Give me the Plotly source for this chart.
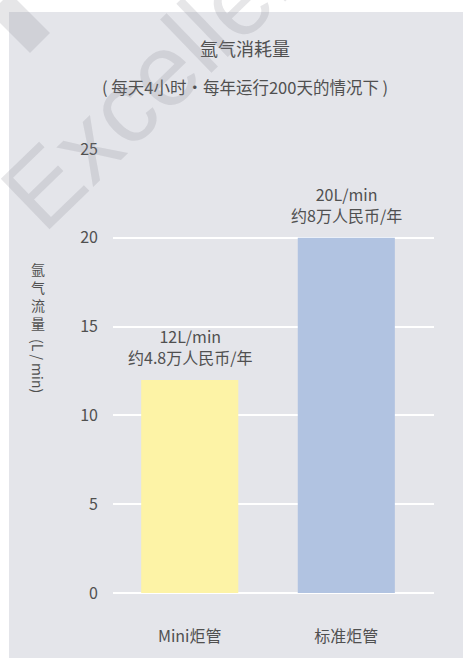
import plotly.graph_objects as go

# Data
categories = ["Mini炬管", "标准炬管"]
flow_values = [12, 20]          # L/min
annual_cost = ["4.8", "8"]      # 万人民币/年
bar_colors = ["#fdf3a6", "#b1c3e1"]
y_ticks = [0, 5, 10, 15, 20, 25]

# Plot area geometry (px)
W_PAGE, H_PAGE = 472, 658
L, R, T, B = 113, 38, 149, 65
PW = W_PAGE - L - R
PH = H_PAGE - T - B


def px_x(x):
    return (x - L) / PW


def px_y(y):
    return (H_PAGE - B - y) / PH


FONT = "Noto Sans CJK SC, Noto Sans, sans-serif"
TXT = "#505050"
PANEL = "#e4e5ea"
MARK = "rgba(130,130,140,0.2)"

fig = go.Figure()
fig.add_trace(go.Bar(
    x=categories,
    y=flow_values,
    marker=dict(color=bar_colors, line=dict(width=0)),
    width=0.62,
    hoverinfo="skip",
))

annotations = []

# value labels above bars
for c, v, cost in zip(categories, flow_values, annual_cost):
    annotations.append(dict(
        x=c, y=v, xref="x", yref="y",
        text=f"{v}L/min<br>约{cost}万人民币/年",
        showarrow=False, yanchor="bottom", yshift=9,
        font=dict(family=FONT, size=16, color=TXT),
    ))

# title and subtitle
annotations.append(dict(
    x=px_x(245), y=px_y(48), xref="paper", yref="paper",
    text="氩气消耗量", showarrow=False, yanchor="middle",
    font=dict(family=FONT, size=18, color=TXT),
))
annotations.append(dict(
    x=px_x(245), y=px_y(87), xref="paper", yref="paper",
    text="( 每天4小时・每年运行200天的情况下 )", showarrow=False, yanchor="middle",
    font=dict(family=FONT, size=16.5, color=TXT),
))

# vertical axis title: upright CJK characters then rotated unit
for i, ch in enumerate("氩气流量"):
    annotations.append(dict(
        x=px_x(38), y=px_y(269 + i * 18), xref="paper", yref="paper",
        text=ch, showarrow=False, yanchor="middle", xanchor="center",
        font=dict(family=FONT, size=14, color=TXT),
    ))
annotations.append(dict(
    x=px_x(38), y=px_y(366), xref="paper", yref="paper",
    text="(L / min)", textangle=90, showarrow=False,
    yanchor="middle", xanchor="center",
    font=dict(family=FONT, size=14, color=TXT),
))

# faint watermark
annotations.append(dict(
    x=px_x(168), y=px_y(66), xref="paper", yref="paper",
    text="Excellent", textangle=-44, showarrow=False,
    xanchor="center", yanchor="middle",
    font=dict(family="Liberation Sans, Arial, sans-serif", size=102, color=MARK),
))

shapes = [
    # grey panel behind the chart
    dict(type="rect", xref="paper", yref="paper", layer="below",
         x0=px_x(9), x1=px_x(463), y0=px_y(658), y1=px_y(12),
         fillcolor=PANEL, line=dict(width=0)),
    # watermark diamond
    dict(type="path", xref="paper", yref="paper", layer="above",
         path=f"M {px_x(50)},{px_y(33)} L {px_x(30)},{px_y(53)} "
              f"L {px_x(-10)},{px_y(13)} L {px_x(10)},{px_y(-7)} Z",
         fillcolor=MARK, line=dict(width=0)),
]

fig.update_layout(
    width=W_PAGE, height=H_PAGE,
    margin=dict(l=L, r=R, t=T, b=B, pad=0),
    paper_bgcolor="white",
    plot_bgcolor=PANEL,
    showlegend=False,
    annotations=annotations,
    shapes=shapes,
    xaxis=dict(
        range=[-0.49, 1.56],
        showgrid=False, zeroline=False, showline=False, ticks="",
        tickfont=dict(family=FONT, size=16, color=TXT),
        ticklabelstandoff=32,
    ),
    yaxis=dict(
        range=[0, 25], tickvals=y_ticks,
        showgrid=True, gridcolor="white", gridwidth=2,
        zeroline=True, zerolinecolor="white", zerolinewidth=2,
        showline=False, ticks="",
        tickfont=dict(family=FONT, size=16, color=TXT),
        ticklabelstandoff=14,
    ),
)

fig.write_html("out.html")
